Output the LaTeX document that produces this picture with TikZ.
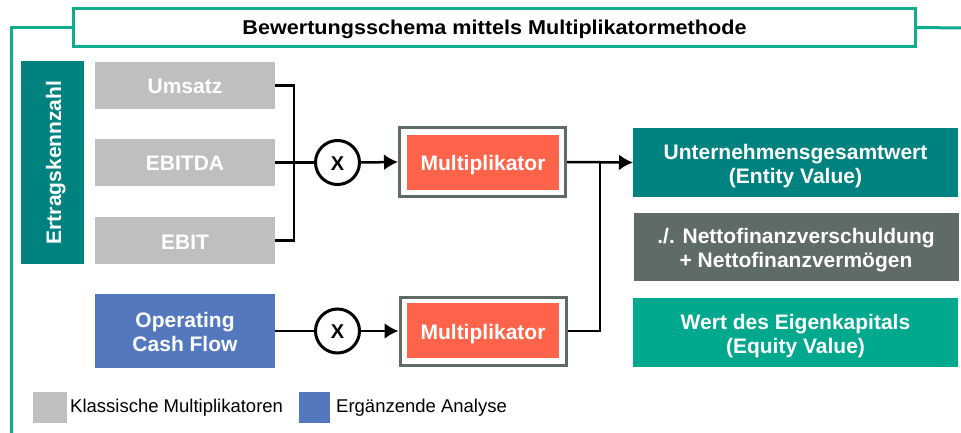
\documentclass[tikz,border=0pt]{standalone}
\usepackage{fontspec}
\setmainfont{Liberation Sans}
\usetikzlibrary{arrows.meta}
\definecolor{frameg}{RGB}{16,172,142}
\definecolor{tealc}{RGB}{0,130,128}
\definecolor{greyc}{RGB}{191,191,191}
\definecolor{bluec}{RGB}{84,120,190}
\definecolor{redc}{RGB}{255,99,74}
\definecolor{darkg}{RGB}{95,107,101}
\definecolor{greenc}{RGB}{0,168,142}
\newcommand{\twolines}[2]{\raisebox{-4pt}[\height][\depth]{\renewcommand{\arraystretch}{1}\begin{tabular}{@{}c@{}}#1\\#2\end{tabular}}}
\tikzset{
  box/.style={inner sep=0pt, outer sep=0pt, align=center, text=white,
    font=\fontsize{21}{24}\selectfont\bfseries},
  onel/.style={text height=17pt, text depth=0pt},
  kbox/.style={box, onel, fill=greyc, minimum width=180pt, minimum height=47pt},
  multouter/.style={draw=darkg, line width=3pt, fill=white, inner sep=0pt, outer sep=1.5pt,
    minimum width=166pt, minimum height=68pt},
  multinner/.style={box, onel, fill=redc, minimum width=152pt, minimum height=55pt},
  rbox/.style={box, minimum width=325pt, minimum height=69pt},
  xcirc/.style={circle, draw=black, line width=3pt, fill=white, minimum size=44pt, inner sep=0pt,
    outer sep=1.5pt, font=\fontsize{20}{20}\selectfont\bfseries, text height=15pt, text depth=0pt},
  conn/.style={line width=2.5pt, draw=black},
  arr/.style={conn, -{Latex[length=14pt,width=16pt]}},
  legsq/.style={inner sep=0pt, outer sep=0pt, minimum width=34pt, minimum height=31pt},
  legtxt/.style={inner sep=0pt, anchor=west, font=\fontsize{18.5}{20}\selectfont}
}
\begin{document}
\begin{tikzpicture}[x=1pt,y=-1pt]
\useasboundingbox (0,0) rectangle (961,433);
% frame
\node[draw=frameg, line width=3pt, fill=white, inner sep=0pt, outer sep=1.5pt,
  minimum width=842pt, minimum height=38pt, text height=15pt, text depth=0pt,
  font=\fontsize{20}{22}\selectfont\bfseries] (title) at (494.5,27.5)
  {\scalebox{1.08}[1]{Bewertungsschema mittels Multiplikatormethode}};
\coordinate (fb) at (11,434);
\coordinate (fr) at (962,28);
\draw[draw=frameg, line width=3pt] (fb) |- (title.west);
\draw[draw=frameg, line width=3pt] (title.east) -- (fr);
% left
\node[box, fill=tealc, minimum width=63pt, minimum height=203pt] (ertrag) at (52.5,162.5) {};
\node[box, rotate=90, text height=17pt, text depth=0pt] (ertragtxt) at (ertrag.center) {Ertragskennzahl};
\node[kbox] (umsatz) at (185,85.5) {Umsatz};
\node[kbox] (ebitda) at (185,162.5) {EBITDA};
\node[kbox] (ebit) at (185,240.5) {EBIT};
\node[box, fill=bluec, minimum width=180pt, minimum height=74pt] (ocf) at (185,331) {\twolines{Operating}{Cash Flow}};
% multipliers
\node[xcirc] (x1) at (337.5,162.5) {X};
\node[xcirc] (x2) at (337.5,331) {X};
\node[multouter] (m1) at (482.5,162) {};
\node[multinner] (m1i) at (483,162.5) {Multiplikator};
\node[multouter] (m2) at (483,331) {};
\node[multinner] (m2i) at (483,330.5) {Multiplikator};
% right
\node[rbox, fill=tealc] (ev) at (795.5,162.5) {\twolines{Unternehmensgesamtwert}{(Entity Value)}};
\node[rbox, fill=darkg, minimum height=68pt] (net) at (796,247) {\twolines{./. Nettofinanzverschuldung}{+ Nettofinanzvermögen}};
\node[rbox, fill=greenc] (eq) at (795.5,332.5) {\twolines{Wert des Eigenkapitals}{(Equity Value)}};
% connectors
\coordinate (jl) at (294,162.5);
\coordinate (jr) at (600,162.5);
\draw[conn] (umsatz.east) -| (jl) |- (ebit.east);
\draw[conn] (ebitda.east) -- (x1.west);
\draw[arr] (x1.east) -- (m1.west);
\draw[arr] (m1.east) -- (ev.west);
\draw[conn] (m2.east) -| (jr);
\draw[conn] (ocf.east) -- (x2.west);
\draw[arr] (x2.east) -- (m2.west);
% legend
\node[legsq, fill=greyc] (lg1) at (49.5,407.5) {};
\node[legtxt] (lt1) at (70,408) {Klassische Multiplikatoren};
\node[legsq, fill=bluec, minimum width=31pt] (lg2) at (314,407.5) {};
\node[legtxt] (lt2) at (336,408) {Ergänzende Analyse};
\end{tikzpicture}
\end{document}
